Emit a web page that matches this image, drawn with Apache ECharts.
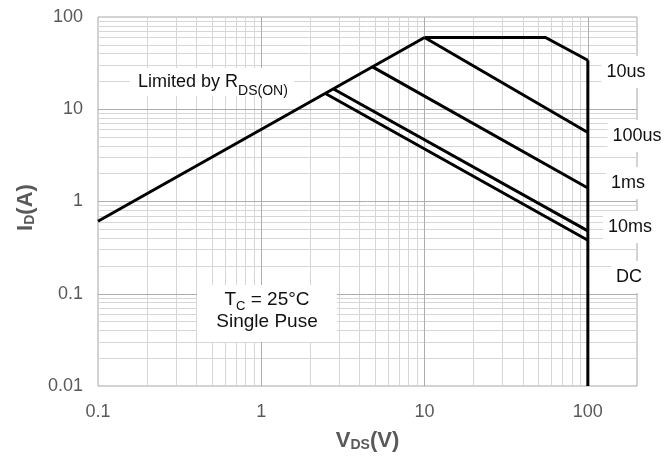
<!DOCTYPE html>
<html>
<head>
<meta charset="utf-8">
<script src="https://cdn.jsdelivr.net/npm/echarts@6/dist/echarts.min.js"></script>
<style>
  html, body { margin: 0; padding: 0; background: #fff; }
  #chart { width: 664px; height: 464px; }
</style>
</head>
<body>
<div id="chart"></div>
<script>
// Safe operating area of the MOSFET, drain current vs drain-source voltage (log-log)
const vdsTicks = [0.1, 1, 10, 100];
const idTicks = [0.01, 0.1, 1, 10, 100];

// boundary curves, [VDS (V), ID (A)]
const rdsOnLimit = [[0.1, 0.61], [10, 60]];
const pulse10us = [[10, 60], [55, 60], [100, 34]];
const pulse100us = [[10, 60], [100, 5.6]];
const pulse1ms = [[4.8, 28.8], [100, 1.4]];
const pulse10ms = [[2.77, 16.6], [100, 0.48]];
const dcOperation = [[2.47, 14.8], [100, 0.38]];
const vdsLimit = [[100, 34], [100, 0.01]];

const curveLabels = ['10us', '100us', '1ms', '10ms', 'DC'];

const FONT = "'Liberation Sans', Arial, Helvetica, sans-serif";

// gridlines: darker at each decade, lighter at 2..9 inside a decade
const minorMul = [2, 3, 4, 5, 6, 7, 8, 9];
const xDecades = [0.1, 1, 10];
const yDecades = [0.01, 0.1, 1, 10];
const xMinor = [], yMinor = [];
xDecades.forEach(d => minorMul.forEach(m => xMinor.push(+(d * m).toPrecision(3))));
yDecades.forEach(d => minorMul.forEach(m => yMinor.push(+(d * m).toPrecision(3))));
const xMajor = [1, 10, 100];
const yMajor = [0.1, 1, 10];

const chart = echarts.init(document.getElementById('chart'), null, { renderer: 'canvas' });

function sameTick(v, list) {
  return list.find(t => Math.abs(Math.log10(v) - Math.log10(t)) < 1e-6);
}

function gridLines(name, xs, ys, color, z) {
  return {
    name: name,
    type: 'line',
    data: [],
    silent: true,
    z: z,
    markLine: {
      silent: true,
      animation: false,
      symbol: ['none', 'none'],
      label: { show: false },
      lineStyle: { color: color, width: 1, type: 'solid' },
      emphasis: { disabled: true },
      data: xs.map(v => ({ xAxis: v })).concat(ys.map(v => ({ yAxis: v })))
    }
  };
}

function curve(name, data) {
  return {
    name: name,
    type: 'line',
    data: data,
    symbol: 'none',
    showSymbol: false,
    silent: true,
    z: 5,
    lineStyle: { color: '#000', width: 3, join: 'miter', cap: 'butt' }
  };
}

// text measurement for the hand-composed subscript labels
const measureCtx = document.createElement('canvas').getContext('2d');
function textWidth(t, size) {
  measureCtx.font = size + 'px ' + FONT;
  return measureCtx.measureText(t).width;
}
function composed(x, y, parts, center) {
  const total = parts.reduce((s, p) => s + textWidth(p.t, p.size), 0);
  let cx = center ? x - total / 2 : x;
  return parts.map(p => {
    const el = {
      type: 'text',
      x: cx,
      y: y + (p.dy || 0),
      z: 110,
      silent: true,
      style: {
        text: p.t,
        font: p.size + 'px ' + FONT,
        fill: '#111',
        align: 'left',
        verticalAlign: 'middle'
      }
    };
    cx += textWidth(p.t, p.size);
    return el;
  });
}

const labelPos = [[626, 72], [637, 136], [628, 183], [630, 227], [629, 277]];
const curveLabelEls = curveLabels.map((t, i) => ({
  type: 'text',
  x: labelPos[i][0],
  y: labelPos[i][1],
  z: 110,
  silent: true,
  style: {
    text: t,
    font: '18px ' + FONT,
    fill: '#111',
    align: 'center',
    verticalAlign: 'middle',
    backgroundColor: '#fff',
    padding: [7, 5, 7, 5]
  }
}));

const titleRich = {
  m: { fontFamily: FONT, fontSize: 22, fontWeight: 'bold', color: '#595959', verticalAlign: 'bottom', lineHeight: 26 },
  s: { fontFamily: FONT, fontSize: 14, fontWeight: 'bold', color: '#595959', verticalAlign: 'bottom', lineHeight: 26 }
};

const option = {
  animation: false,
  backgroundColor: '#fff',
  grid: {
    left: 98, right: 27, top: 17, bottom: 78,
    show: true, borderColor: '#a6a6a6', borderWidth: 1,
    backgroundColor: 'transparent'
  },
  xAxis: {
    type: 'log',
    logBase: 10,
    min: 0.1,
    max: 200,
    name: '{m|V}{s|DS}{m|(V)}',
    nameLocation: 'middle',
    nameGap: 40,
    nameTextStyle: { rich: titleRich },
    axisLine: { show: false },
    axisTick: { show: false },
    splitLine: { show: false },
    axisLabel: {
      margin: 17,
      fontFamily: FONT,
      fontSize: 18,
      color: '#595959',
      showMaxLabel: false,
      formatter: v => { const t = sameTick(v, vdsTicks); return t === undefined ? '' : String(t); }
    }
  },
  yAxis: {
    type: 'log',
    logBase: 10,
    min: 0.01,
    max: 100,
    name: '{m|I}{s|D}{m|(A)}',
    nameLocation: 'middle',
    nameGap: 60,
    nameRotate: 90,
    nameTextStyle: { rich: titleRich, padding: [0, 12, 0, 0] },
    axisLine: { show: false },
    axisTick: { show: false },
    splitLine: { show: false },
    axisLabel: {
      margin: 15,
      fontFamily: FONT,
      fontSize: 18,
      color: '#595959',
      formatter: v => { const t = sameTick(v, idTicks); return t === undefined ? '' : String(t); }
    }
  },
  series: [
    gridLines('minor grid', xMinor, yMinor, '#d6d6d6', 1),
    gridLines('decade grid', xMajor, yMajor, '#adadad', 2),
    curve('RDS(ON) limit', rdsOnLimit),
    curve('10us', pulse10us),
    curve('100us', pulse100us),
    curve('1ms', pulse1ms),
    curve('10ms', pulse10ms),
    curve('DC', dcOperation),
    curve('VDS limit', vdsLimit)
  ],
  graphic: [
    // note boxes
    { type: 'rect', shape: { x: 130, y: 68, width: 164, height: 28 }, z: 100, silent: true, style: { fill: '#fff' } },
    { type: 'rect', shape: { x: 197, y: 285, width: 140, height: 57 }, z: 100, silent: true, style: { fill: '#fff' } }
  ]
    .concat(composed(138, 82.5, [{ t: 'Limited by R', size: 18 }, { t: 'DS(ON)', size: 14, dy: 9 }], false))
    .concat(composed(267, 300, [{ t: 'T', size: 19 }, { t: 'C', size: 13, dy: 6 }, { t: ' = 25°C', size: 19 }], true))
    .concat(composed(267, 322, [{ t: 'Single Puse', size: 19 }], true))
    .concat(curveLabelEls)
};

chart.setOption(option);
</script>
</body>
</html>
